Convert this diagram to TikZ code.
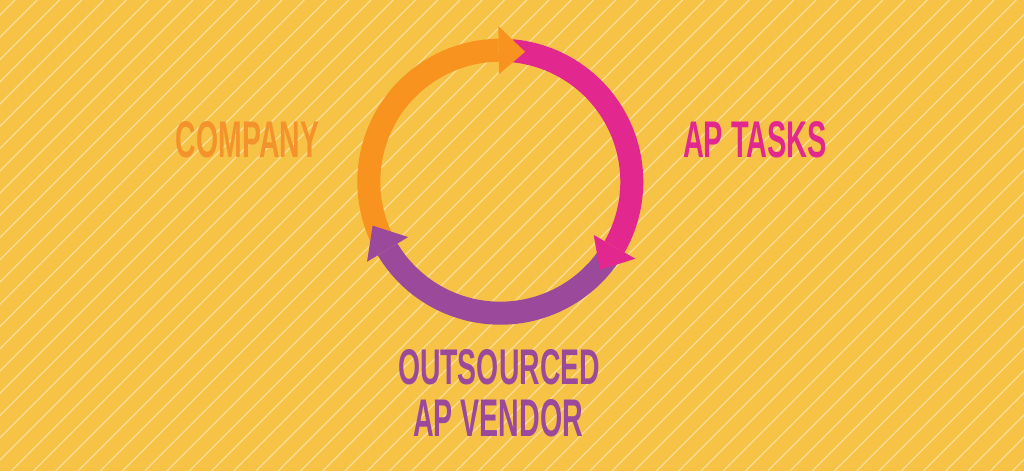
\documentclass[tikz,border=0pt]{standalone}
\usepackage{fontspec}
\setmainfont{Liberation Sans}
\usepackage{xcolor}
\usepackage{tikz}

\definecolor{bgyellow}{RGB}{246,195,70}
\definecolor{stripe}{RGB}{250,222,150}
\definecolor{arcorange}{RGB}{247,147,30}
\definecolor{txtorange}{RGB}{244,146,44}
\definecolor{arcmagenta}{RGB}{226,40,143}
\definecolor{arcpurple}{RGB}{155,74,155}

\newcommand{\cyclabel}[3]{\resizebox{#1}{#2}{\bfseries #3}}

\begin{document}
\begin{tikzpicture}[x=1pt,y=1pt,
    label/.style={inner sep=0pt, outer sep=0pt}]
        \fill[bgyellow] (0,0) rectangle (1024,471);
        \useasboundingbox (0,0) rectangle (1024,471);
        \begin{scope}
            \clip (0,0) rectangle (1024,471);
            \foreach \k in {-1,...,68}
                \draw[stripe, line width=1.2pt] ({15+22.25*\k-471},0) -- ++(471,471);
        \end{scope}

        % the ring, centre of the cycle
        \coordinate (c) at (500.3,289.3);
        \begin{scope}[shift={(c)}]
            % bands
            \fill[arcorange] (205:120) arc[start angle=205, end angle=90.7, radius=120]
                -- (90.7:143) arc[start angle=90.7, end angle=205, radius=143] -- cycle;
            \fill[arcmagenta] (85:120) arc[start angle=85, end angle=-29.7, radius=120]
                -- (-29.7:143) arc[start angle=-29.7, end angle=85, radius=143] -- cycle;
            \fill[arcpurple] (-33:120) arc[start angle=-33, end angle=-149, radius=120]
                -- (-149:143) arc[start angle=-149, end angle=-33, radius=143] -- cycle;
            % heads
            \fill[arcorange] (90.7:107.5) -- (79.2:132.3) -- (90.7:155.5) -- cycle;
            \fill[arcmagenta] (-29.7:107.5) -- (-41.5:133) -- (-29.7:155.5) -- cycle;
            \fill[arcpurple] (-149:107.5) -- (-161:135) -- (-149:155.5) -- cycle;
        \end{scope}

        \node[label, text=txtorange] (company) at (247.5,331) {\cyclabel{143pt}{36pt}{COMPANY}};
        \node[label, text=arcmagenta] (tasks) at (755,331) {\cyclabel{144pt}{36pt}{AP TASKS}};
        \node[label, text=arcpurple] (outsourced) at (499,103.5) {\cyclabel{202pt}{35pt}{OUTSOURCED}};
        \node[label, text=arcpurple] (vendor) at (498,52.5) {\cyclabel{170pt}{37pt}{AP VENDOR}};
    \end{tikzpicture}
\end{document}
